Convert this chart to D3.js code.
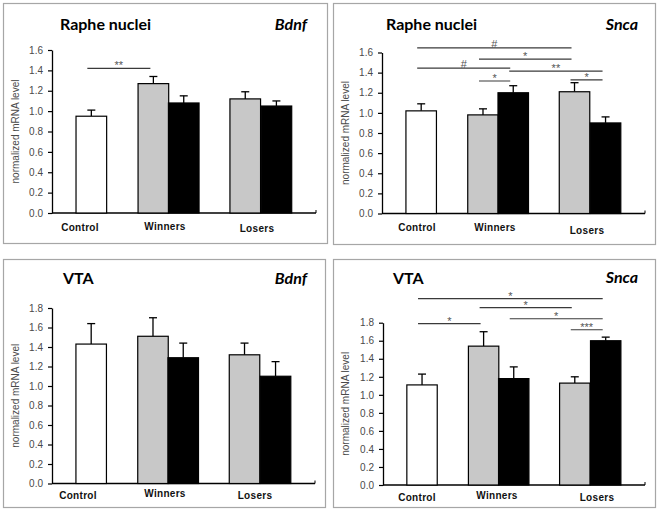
<!DOCTYPE html>
<html><head><meta charset="utf-8">
<script src="https://cdn.jsdelivr.net/npm/d3@7/dist/d3.min.js"></script>
<style>
html,body{margin:0;padding:0;background:#fff;}
svg{display:block;}
</style></head>
<body><svg id="chart" width="661" height="512"></svg>
<script>
// ---------- DATA ----------
const groups = ["Control", "Winners", "Losers"];
const barGroup = [0, 1, 1, 2, 2];               // which group each bar belongs to
const barFill = ["white", "gray", "black", "gray", "black"];
const regions = ["Raphe nuclei", "Raphe nuclei", "VTA", "VTA"];
const genes = ["Bdnf", "Snca", "Bdnf", "Snca"];

const rapheBdnfMean = [0.95, 1.27, 1.08, 1.12, 1.05];
const rapheBdnfSem  = [0.06, 0.07, 0.07, 0.07, 0.05];
const rapheSncaMean = [1.02, 0.98, 1.20, 1.21, 0.90];
const rapheSncaSem  = [0.07, 0.06, 0.07, 0.09, 0.06];
const vtaBdnfMean   = [1.43, 1.51, 1.29, 1.32, 1.10];
const vtaBdnfSem    = [0.21, 0.19, 0.15, 0.12, 0.15];
const vtaSncaMean   = [1.11, 1.54, 1.18, 1.13, 1.60];
const vtaSncaSem    = [0.12, 0.16, 0.13, 0.07, 0.04];

const yTicksRaphe = [0, 0.2, 0.4, 0.6, 0.8, 1.0, 1.2, 1.4, 1.6];
const yTicksVta   = [0, 0.2, 0.4, 0.6, 0.8, 1.0, 1.2, 1.4, 1.6, 1.8];

// significance brackets: [barA, barB, label, level (in mRNA units)]
const rapheBdnfSig = [[0, 1, "**", 1.42]];
const rapheSncaSig = [[0, 3, "#", 1.645], [1, 3, "*", 1.535], [0, 2, "#", 1.445],
                      [2, 4, "**", 1.415], [1, 2, "*", 1.317], [3, 4, "*", 1.327]];
const vtaBdnfSig = [];
const vtaSncaSig = [[0, 4, "*", 2.067], [1, 3, "*", 1.967], [0, 1, "*", 1.789],
                    [2, 4, "*", 1.844], [3, 4, "***", 1.722]];

const yTitle = "normalized mRNA level";

// ---------- LAYOUT ----------
const fills = {white: "#ffffff", gray: "#c8c8c8", black: "#000000"};
const barStartFrac = [0.091, 0.326, 0.441, 0.674, 0.792];
const barWidthFrac = 0.116;

const panels = [
  {mean: rapheBdnfMean, sem: rapheBdnfSem, sig: rapheBdnfSig, ticks: yTicksRaphe,
   box: [3, 3, 327, 243], ax: 52, axEnd: 316, yTop: 50, yZero: 213,
   titleX: 60, titleY: 30, geneX: 307, geneY: 30,
   labX: [80, 165, 257], labY: [231, 230, 232], ytX: 16},
  {mean: rapheSncaMean, sem: rapheSncaSem, sig: rapheSncaSig, ticks: yTicksRaphe,
   box: [333, 3, 655, 244], ax: 382, axEnd: 645, yTop: 52.5, yZero: 213.5,
   titleX: 386, titleY: 30, geneX: 638, geneY: 30,
   labX: [417, 495, 587], labY: [231, 231, 233.5], ytX: 346},
  {mean: vtaBdnfMean, sem: vtaBdnfSem, sig: vtaBdnfSig, ticks: yTicksVta,
   box: [3, 259, 325, 507], ax: 52, axEnd: 315, yTop: 308, yZero: 483.5,
   titleX: 63, titleY: 284, geneX: 307, geneY: 284,
   labX: [78, 165, 255], labY: [499, 497, 499], ytX: 16},
  {mean: vtaSncaMean, sem: vtaSncaSem, sig: vtaSncaSig, ticks: yTicksVta,
   box: [333, 259, 655, 507], ax: 383, axEnd: 645, yTop: 322.7, yZero: 485,
   titleX: 393, titleY: 284, geneX: 638, geneY: 283,
   labX: [417, 497, 597], labY: [501, 499, 501], ytX: 346}
];

const svg = d3.select("#chart");

panels.forEach((p, i) => {
  const g = svg.append("g");
  const [bx0, by0, bx1, by1] = p.box;
  g.append("rect").attr("x", bx0 + 0.5).attr("y", by0 + 0.5)
    .attr("width", bx1 - bx0).attr("height", by1 - by0)
    .attr("fill", "#fff").attr("stroke", "#a6a6a6").attr("stroke-width", 1.2);

  const yMax = d3.max(p.ticks);
  const y = d3.scaleLinear().domain([0, yMax]).range([p.yZero, p.yTop]);
  const xf = d3.scaleLinear().domain([0, 1]).range([p.ax, p.axEnd]);
  const bw = xf(barWidthFrac) - xf(0);
  const center = k => xf(barStartFrac[k]) + bw / 2;

  // y axis
  const yAxis = d3.axisLeft(y).tickValues(p.ticks).tickFormat(d3.format(".1f"))
    .tickSizeInner(4).tickSizeOuter(0).tickPadding(5);
  const ya = g.append("g").attr("transform", `translate(${p.ax},0)`).call(yAxis);
  ya.select(".domain").attr("stroke", "#000").attr("stroke-width", 1.3);
  ya.selectAll(".tick line").attr("stroke", "#000").attr("stroke-width", 1.2);
  ya.selectAll(".tick text").attr("font-family", "Liberation Sans, Arial, sans-serif")
    .attr("font-size", 10).attr("fill", "#4a4a4a");

  // x axis
  const xa = g.append("g");
  xa.append("line").attr("x1", p.ax).attr("x2", p.axEnd)
    .attr("y1", p.yZero).attr("y2", p.yZero).attr("stroke", "#000").attr("stroke-width", 1.3);
  xa.append("line").attr("x1", p.axEnd).attr("x2", p.axEnd)
    .attr("y1", p.yZero).attr("y2", p.yZero - 3).attr("stroke", "#000").attr("stroke-width", 1);

  // error bars
  const eg = g.append("g");
  p.mean.forEach((m, k) => {
    const cx = center(k);
    eg.append("line").attr("x1", cx).attr("x2", cx).attr("y1", y(m)).attr("y2", y(m + p.sem[k]))
      .attr("stroke", "#000").attr("stroke-width", 1.3);
    eg.append("line").attr("x1", cx - 4).attr("x2", cx + 4)
      .attr("y1", y(m + p.sem[k])).attr("y2", y(m + p.sem[k]))
      .attr("stroke", "#000").attr("stroke-width", 1.3);
  });

  // bars
  g.append("g").selectAll("rect").data(p.mean).join("rect")
    .attr("x", (d, k) => xf(barStartFrac[k]))
    .attr("y", d => y(d))
    .attr("width", bw)
    .attr("height", d => p.yZero - y(d))
    .attr("fill", (d, k) => fills[barFill[k]])
    .attr("stroke", "#000").attr("stroke-width", 1.2);

  // significance lines
  const sg = g.append("g");
  p.sig.forEach(([a, b, lab, lvl]) => {
    const x1 = center(a) - 4, x2 = center(b) - 3, yy = y(lvl);
    sg.append("line").attr("x1", x1).attr("x2", x2).attr("y1", yy).attr("y2", yy)
      .attr("stroke", "#3a3a3a").attr("stroke-width", 1.2);
    sg.append("text").attr("x", (x1 + x2) / 2).attr("y", lab === "#" ? yy : yy + 1)
      .attr("text-anchor", "middle").attr("font-family", "Liberation Sans, Arial, sans-serif")
      .attr("font-size", 11).attr("fill", "#555").text(lab);
  });

  // titles
  g.append("text").attr("x", p.titleX).attr("y", p.titleY)
    .attr("font-family", "Lato, sans-serif").attr("font-weight", "bold")
    .attr("font-size", 16).attr("fill", "#000").text(regions[i]);
  g.append("text").attr("x", p.geneX).attr("y", p.geneY).attr("text-anchor", "end")
    .attr("font-family", "Lato, sans-serif").attr("font-weight", "bold").attr("font-style", "italic")
    .attr("font-size", 16).attr("fill", "#000").text(genes[i]);

  // category labels
  groups.forEach((name, k) => {
    g.append("text").attr("x", p.labX[k]).attr("y", p.labY[k]).attr("text-anchor", "middle")
      .attr("font-family", "Liberation Sans, Arial, sans-serif").attr("font-weight", "bold")
      .attr("font-size", 10).attr("letter-spacing", 0.3).attr("fill", "#111").text(name);
  });

  // y title
  const ym = (p.yZero + p.yTop) / 2;
  g.append("text").attr("transform", `translate(${p.ytX},${ym}) rotate(-90)`)
    .attr("text-anchor", "middle").attr("dominant-baseline", "middle")
    .attr("font-family", "Liberation Sans, Arial, sans-serif")
    .attr("font-size", 10).attr("fill", "#4a4a4a").text(yTitle);
});
</script></body></html>
